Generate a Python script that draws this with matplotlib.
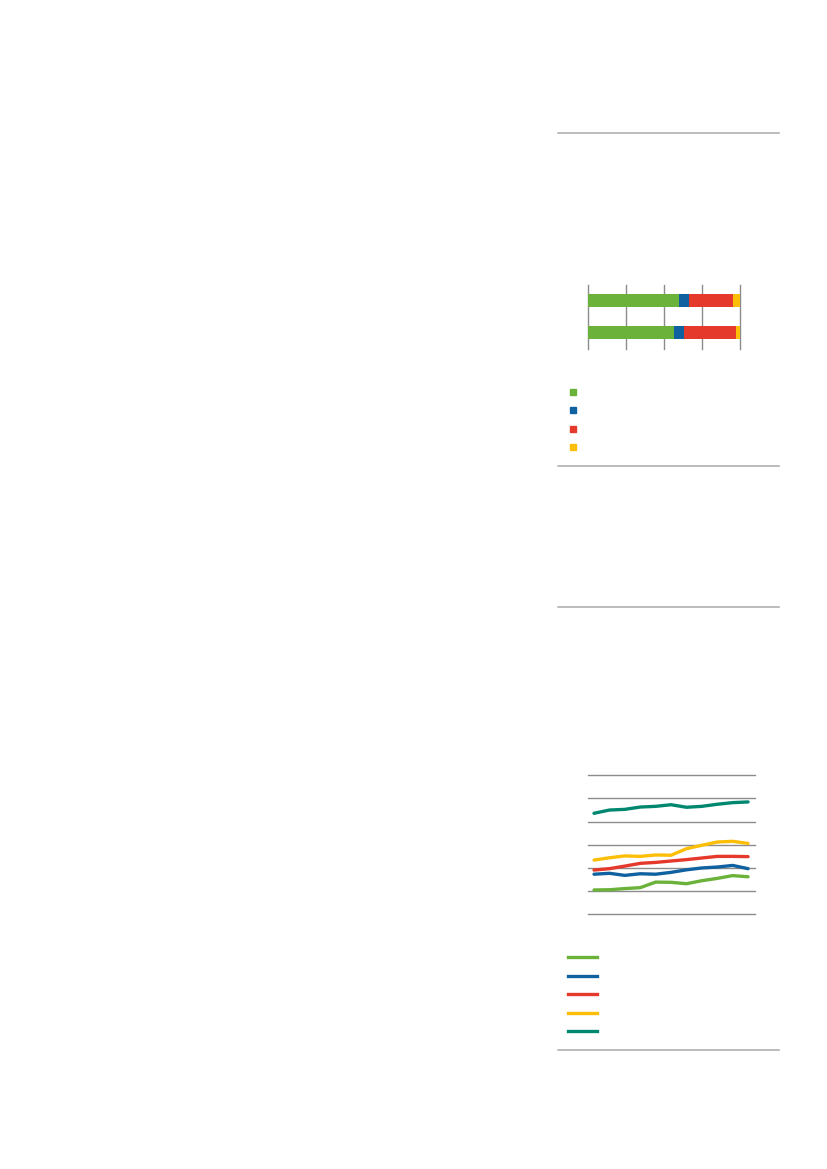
import matplotlib
matplotlib.use("Agg")
import matplotlib.pyplot as plt
from matplotlib.lines import Line2D
from matplotlib.patches import Patch
import numpy as np

W, H = 827, 1169

# ---------------- data ----------------
bar_groups = ["A", "B"]
share_green = [59.9, 56.6]
share_blue = [6.6, 6.8]
share_red = [28.9, 34.0]
share_yellow = [4.6, 2.6]

years = [2010, 2011, 2012, 2013, 2014, 2015, 2016, 2017, 2018, 2019, 2020]
s_green = [1.05, 1.06, 1.11, 1.15, 1.39, 1.38, 1.32, 1.45, 1.55, 1.67, 1.62]
s_blue = [1.73, 1.77, 1.68, 1.75, 1.73, 1.81, 1.92, 2.00, 2.04, 2.11, 1.97]
s_red = [1.91, 1.97, 2.08, 2.20, 2.24, 2.30, 2.36, 2.43, 2.50, 2.50, 2.49]
s_yellow = [2.34, 2.44, 2.52, 2.50, 2.56, 2.55, 2.83, 2.98, 3.12, 3.15, 3.06]
s_teal = [4.36, 4.50, 4.53, 4.63, 4.66, 4.73, 4.62, 4.66, 4.75, 4.82, 4.85]
y_ticks = [0, 1, 2, 3, 4, 5, 6]

GREEN = "#6AB23A"
BLUE = "#10619F"
RED = "#E5392B"
YELLOW = "#FDBE08"
TEAL = "#008770"
GRID = "#8C8C8C"
RULE = "#AAAAAA"

fig = plt.figure(figsize=(W / 100, H / 100), dpi=100)


def fx(px):
    return px / W


def fy(py):
    return 1 - py / H


# horizontal rules
for ry in [133, 466, 607, 1050]:
    fig.add_artist(Line2D([fx(558), fx(779)], [fy(ry), fy(ry)], color=RULE, lw=1.1))

# ---------------- stacked bar chart ----------------
axb = fig.add_axes([fx(588), fy(349), fx(740) - fx(588), (349 - 285) / H])
ypos = np.arange(len(bar_groups))
left = np.zeros(len(bar_groups))
bar_handles = []
for vals, col in [(share_green, GREEN), (share_blue, BLUE), (share_red, RED), (share_yellow, YELLOW)]:
    axb.barh(ypos, vals, left=left, height=0.40, color=col, zorder=2)
    left += np.array(vals)
    bar_handles.append(Patch(color=col))
axb.set_xlim(0, 100)
axb.set_ylim(1.5, -0.49)
axb.set_xticks([0, 25, 50, 75, 100])
axb.xaxis.grid(True, color=GRID, lw=1.0, zorder=0)
axb.set_axisbelow(True)
axb.tick_params(length=0, labelbottom=False, labelleft=False)
axb.set_yticks([])
for s in axb.spines.values():
    s.set_visible(False)
for gl in axb.xaxis.get_gridlines():
    gl.set_clip_on(False)

fig.legend(bar_handles, ["", "", "", ""], loc="upper left",
           bbox_to_anchor=(fx(570), fy(387.5)), frameon=False,
           handlelength=0.75, handleheight=0.75, fontsize=6,
           labelspacing=1.14, handletextpad=0.3, borderaxespad=0, borderpad=0)

# ---------------- line chart ----------------
axl = fig.add_axes([fx(587.7), fy(914.3), fx(755) - fx(587.7), (914.3 - 775.3) / H])
xi = np.arange(len(years))
line_handles = []
for vals, col in [(s_green, GREEN), (s_blue, BLUE), (s_red, RED), (s_yellow, YELLOW), (s_teal, TEAL)]:
    axl.plot(xi, vals, color=col, lw=2.4, solid_capstyle="round", zorder=3)
    line_handles.append(Line2D([0], [0], color=col, lw=2.4))
axl.set_xlim(-0.41, 10.45)
axl.set_ylim(0, 6)
axl.set_yticks(y_ticks)
axl.set_xticks([])
axl.yaxis.grid(True, color=GRID, lw=1.0, zorder=0)
axl.set_axisbelow(True)
axl.tick_params(length=0, labelbottom=False, labelleft=False)
for s in axl.spines.values():
    s.set_visible(False)
for gl in axl.yaxis.get_gridlines():
    gl.set_clip_on(False)

fig.legend(line_handles, ["", "", "", "", ""], loc="upper left",
           bbox_to_anchor=(fx(568), fy(953)), frameon=False,
           handlelength=2.6, fontsize=8, labelspacing=0.77,
           handletextpad=0.3, borderaxespad=0, borderpad=0)

fig.savefig("out.png", dpi=100, facecolor="white")
